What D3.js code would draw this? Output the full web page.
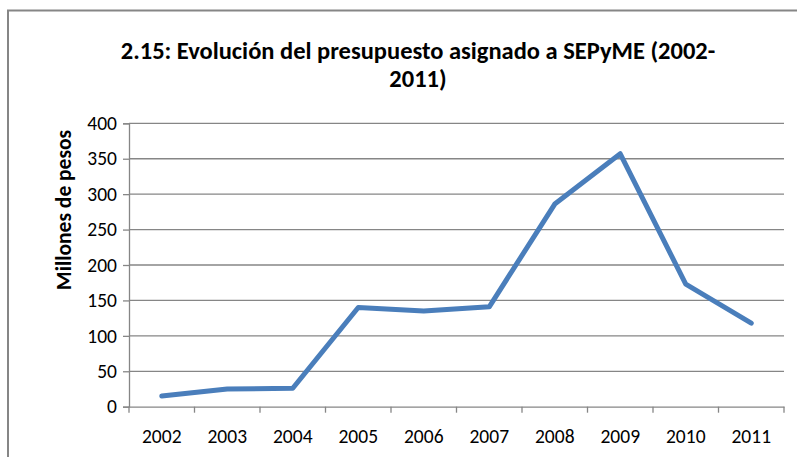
<!DOCTYPE html>
<html><head><meta charset="utf-8">
<script src="https://cdn.jsdelivr.net/npm/d3@7"></script>
<style>body{margin:0;background:#fff}svg{display:block}text{font-family:Calibri,Carlito,"Liberation Sans",Arial,sans-serif}</style>
</head><body><div id="c"></div>
<script>
const years = ["2002","2003","2004","2005","2006","2007","2008","2009","2010","2011"];
const values = [15, 25, 26, 140, 135, 141, 286, 357, 173, 118];
const yTicks = [0, 50, 100, 150, 200, 250, 300, 350, 400];
const titleLines = ["2.15: Evolución del presupuesto asignado a SEPyME (2002-", "2011)"];
const yLabel = "Millones de pesos";

const W = 797, H = 457;
const svg = d3.select("#c").append("svg").attr("width", W).attr("height", H);
svg.append("rect").attr("x", 8).attr("y", 10.5).attr("width", 800).attr("height", 460)
  .attr("fill", "#fff").attr("stroke", "#868686").attr("stroke-width", 2);

const x = d3.scaleBand().domain(years).range([129, 784]);
const y = d3.scaleLinear().domain([0, 400]).range([406.7, 123.3]);

// gridlines
svg.append("g").selectAll("line").data(yTicks.filter(d => d > 0)).join("line")
  .attr("x1", 129).attr("x2", 784).attr("y1", d => y(d)).attr("y2", d => y(d))
  .attr("stroke", "#868686").attr("stroke-width", 1.3);

const yAxis = svg.append("g").attr("transform", "translate(129,0)")
  .call(d3.axisLeft(y).tickValues(yTicks).tickSize(6).tickPadding(6));
const xAxis = svg.append("g").attr("transform", `translate(0,${y(0)})`)
  .call(d3.axisBottom(x).tickSize(0).tickPadding(22));
// band boundary ticks
svg.append("g").selectAll("line").data(d3.range(years.length + 1)).join("line")
  .attr("x1", i => 129 + i * x.step()).attr("x2", i => 129 + i * x.step())
  .attr("y1", y(0)).attr("y2", y(0) + 6).attr("stroke", "#868686").attr("stroke-width", 1.3);

[yAxis, xAxis].forEach(a => {
  a.selectAll("path.domain").attr("stroke", "#868686").attr("stroke-width", 1.3);
  a.selectAll(".tick line").attr("stroke", "#868686").attr("stroke-width", 1.3);
  a.selectAll("text").attr("fill", "#000").style("font-size", "19.5px")
    .style("font-family", "Calibri,Carlito,'Liberation Sans',Arial,sans-serif");
});

const line = d3.line().x((d, i) => x(years[i]) + x.bandwidth() / 2).y(d => y(d));
svg.append("path").datum(values).attr("d", line).attr("fill", "none")
  .attr("stroke", "#4a7ebb").attr("stroke-width", 5).attr("stroke-linejoin", "round").attr("stroke-linecap", "round");

svg.append("g").selectAll("text").data(titleLines).join("text")
  .attr("x", 418).attr("y", (d, i) => 59 + i * 28).attr("text-anchor", "middle")
  .style("font-size", "24.5px").style("font-weight", "bold").text(d => d);

svg.append("text").attr("transform", "translate(71,210) rotate(-90)").attr("text-anchor", "middle")
  .style("font-size", "21.5px").style("font-weight", "bold").text(yLabel);
</script></body></html>
